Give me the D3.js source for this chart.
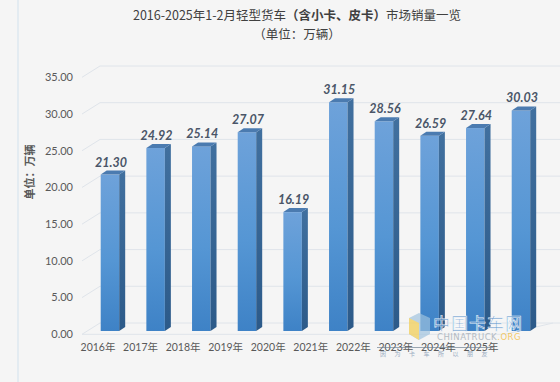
<!DOCTYPE html>
<html>
<head>
<meta charset="utf-8">
<script src="https://cdn.jsdelivr.net/npm/d3@7"></script>
<style>
  html, body { margin: 0; padding: 0; background: #f5f5f5; }
  svg { display: block; }
</style>
</head>
<body>
<div id="chart"></div>
<script>
"use strict";

// data
var years = ["2016年", "2017年", "2018年", "2019年", "2020年", "2021年", "2022年", "2023年", "2024年", "2025年"];
var sales = [21.30, 24.92, 25.14, 27.07, 16.19, 31.15, 28.56, 26.59, 27.64, 30.03];
var yTicks = [0, 5, 10, 15, 20, 25, 30, 35];

var width = 560, height = 382;

var svg = d3.select("#chart").append("svg")
    .attr("width", width)
    .attr("height", height);

svg.append("rect").attr("width", width).attr("height", height).attr("fill", "#f5f5f5");
// thin light strip on the left
svg.append("rect").attr("x", 17).attr("y", 0).attr("width", 2).attr("height", height).attr("fill", "#e3ebf1");

var defs = svg.append("defs");
var gFront = defs.append("linearGradient").attr("id", "front").attr("x1", 0).attr("y1", 0).attr("x2", 0).attr("y2", 1);
gFront.append("stop").attr("offset", "0%").attr("stop-color", "#6ea2da");
gFront.append("stop").attr("offset", "55%").attr("stop-color", "#5596d4");
gFront.append("stop").attr("offset", "100%").attr("stop-color", "#3e82c6");
var gSide = defs.append("linearGradient").attr("id", "side").attr("x1", 0).attr("y1", 0).attr("x2", 0).attr("y2", 1);
gSide.append("stop").attr("offset", "0%").attr("stop-color", "#41709f");
gSide.append("stop").attr("offset", "100%").attr("stop-color", "#2c5a89");

// scales
var h = d3.scaleLinear().domain([0, 35]).range([0, 257]);   // value -> pixel height
var frontY0 = 334.3, backY0 = 323, barY0 = 331;
var frontX = 82, backX = 100, rightX = 560;

var x = d3.scaleBand().domain(years).range([100.7, 530.2])
    .paddingInner(0.595).paddingOuter(0).align(0);
var xl = d3.scalePoint().domain(years).range([98, 481]);

var depthX = 6, depthY = 4;

// gridlines: diagonal side wall + back wall
var grid = svg.append("g").attr("stroke", "#dfe4ea").attr("stroke-width", 1).attr("fill", "none");
grid.selectAll("path.g").data(yTicks).enter().append("path")
    .attr("class", "g")
    .attr("d", function(d) {
        return "M" + frontX + "," + (frontY0 - h(d)) + "L" + backX + "," + (backY0 - h(d)) + "L" + rightX + "," + (backY0 - h(d));
    });
// floor front edge
grid.append("path").attr("d", "M" + frontX + "," + frontY0 + "L505," + frontY0 + "L553," + backY0);

// y tick labels
svg.append("g").selectAll("text").data(yTicks).enter().append("text")
    .attr("x", 73)
    .attr("y", function(d) { return frontY0 - h(d) + 1; })
    .attr("text-anchor", "end")
    .attr("dominant-baseline", "middle")
    .attr("font-family", "Lato, 'Open Sans', sans-serif")
    .attr("font-size", 11)
    .attr("fill", "#595959")
    .text(function(d) { return d3.format(".2f")(d); });

// y axis title
svg.append("text")
    .attr("transform", "translate(34,172) rotate(-90)")
    .attr("text-anchor", "middle")
    .attr("font-family", "'Noto Sans CJK SC', sans-serif")
    .attr("font-size", 11)
    .attr("font-weight", "bold")
    .attr("fill", "#595959")
    .text("单位：万辆");

// bars
var bars = svg.append("g").selectAll("g").data(sales).enter().append("g");

bars.append("rect")
    .attr("x", function(d, i) { return x(years[i]); })
    .attr("y", function(d) { return barY0 - h(d); })
    .attr("width", x.bandwidth())
    .attr("height", function(d) { return h(d); })
    .attr("fill", "url(#front)");

bars.append("path")
    .attr("fill", "url(#side)")
    .attr("d", function(d, i) {
        var x1 = x(years[i]) + x.bandwidth(), yt = barY0 - h(d);
        return "M" + x1 + "," + yt + "L" + (x1 + depthX) + "," + (yt - depthY) +
            "L" + (x1 + depthX) + "," + (barY0 - depthY) + "L" + x1 + "," + barY0 + "Z";
    });

bars.append("path")
    .attr("fill", "#4b7bb0")
    .attr("d", function(d, i) {
        var x0 = x(years[i]), x1 = x0 + x.bandwidth(), yt = barY0 - h(d);
        return "M" + x0 + "," + yt + "L" + x1 + "," + yt + "L" + (x1 + depthX) + "," + (yt - depthY) +
            "L" + (x0 + depthX) + "," + (yt - depthY) + "Z";
    });

// value labels
bars.append("text")
    .attr("x", function(d, i) { return x(years[i]) + x.bandwidth() / 2 + 1; })
    .attr("y", function(d) { return barY0 - h(d) - 8; })
    .attr("text-anchor", "middle")
    .attr("font-family", "Lato, 'Open Sans', sans-serif")
    .attr("font-size", 12.5)
    .attr("font-weight", "bold")
    .attr("font-style", "italic")
    .attr("fill", "#4a5568")
    .text(function(d) { return d3.format(".2f")(d); });

// x labels
svg.append("g").selectAll("text").data(years).enter().append("text")
    .attr("x", function(d) { return xl(d); })
    .attr("y", 348)
    .attr("text-anchor", "middle")
    .attr("dominant-baseline", "middle")
    .attr("font-family", "Lato, 'Noto Sans CJK SC', sans-serif")
    .attr("font-size", 10.5)
    .attr("fill", "#595959")
    .text(function(d) { return d; });

// title
var title = svg.append("text")
    .attr("x", 297).attr("y", 20)
    .attr("text-anchor", "middle")
    .attr("font-family", "'Noto Sans CJK SC', sans-serif")
    .attr("font-size", 12.5)
    .attr("fill", "#404040");
title.append("tspan").text("2016-2025年1-2月轻型货车");
title.append("tspan").attr("font-weight", "bold").text("（含小卡、皮卡）");
title.append("tspan").text("市场销量一览");

svg.append("text")
    .attr("x", 297).attr("y", 39)
    .attr("text-anchor", "middle")
    .attr("font-family", "'Noto Sans CJK SC', sans-serif")
    .attr("font-size", 12.5)
    .attr("fill", "#404040")
    .text("（单位：万辆）");

// watermark
var wm = svg.append("g").attr("opacity", 0.85);
wm.append("path").attr("d", "M409,318 L419,313 L430,318 L430,334 L419,340 L409,334 Z").attr("fill", "#9fc3df").attr("opacity", 0.8);
wm.append("path").attr("d", "M409,318 L419,323 L419,340 L409,334 Z").attr("fill", "#f2d36b");
wm.append("text").attr("x", 433).attr("y", 330)
    .attr("font-family", "'Noto Sans CJK SC', serif").attr("font-size", 17)
    .attr("fill", "#5d92c9").attr("stroke", "#ffffff").attr("stroke-width", 0.6)
    .attr("letter-spacing", 1).text("中国卡车网");
var wt = wm.append("text").attr("x", 437).attr("y", 340)
    .attr("font-family", "'DejaVu Sans', sans-serif").attr("font-size", 8.5).attr("letter-spacing", 0.5);
wt.append("tspan").attr("fill", "#a9b1ba").text("CHINATRUCK");
wt.append("tspan").attr("fill", "#f3c24e").text(".ORG");
wm.append("line").attr("x1", 377).attr("x2", 493).attr("y1", 347.5).attr("y2", 347.5).attr("stroke", "#6f8090").attr("stroke-width", 0.8);
wm.append("text").attr("x", 380).attr("y", 356)
    .attr("font-family", "'Noto Sans CJK SC', sans-serif").attr("font-size", 6)
    .attr("fill", "#8aa0b8").attr("letter-spacing", 8.5).text("因为卡车所以朋友");
</script>
</body>
</html>
